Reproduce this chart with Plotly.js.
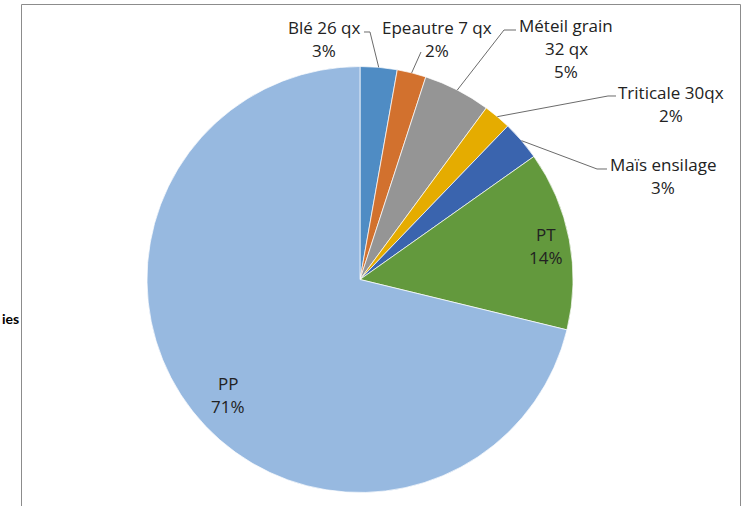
<!DOCTYPE html>
<html>
<head>
<meta charset="utf-8">
<script src="https://cdn.plot.ly/plotly-3.0.1.min.js"></script>
<style>html,body{margin:0;padding:0;background:#fff;}#chart{width:744px;height:506px;}</style>
</head>
<body>
<div id="chart"></div>
<script>
// ---- data ----
const labels = ['Blé 26 qx', 'Epeautre 7 qx', 'Méteil grain<br>32 qx', 'Triticale 30qx', 'Maïs ensilage', 'PT', 'PP'];
const values = [2.8, 2.2, 5.1, 2.1, 3.0, 13.6, 71.2];
const colors = ['#4F8CC4', '#D2712E', '#959595', '#E5AC00', '#3A64AE', '#63993D', '#97B9E0'];
const sideText = 'ies';

// ---- layout helpers (pixel geometry) ----
const W = 744, H = 506;
const cx = 360, cy = 279.5, R = 213;
const px = x => x / W;
const py = y => 1 - y / H;
const LINE = 23;

// label block centres (pixels) and leader elbow points (pixels)
const labelPos = [[324, 39], [437, 39], [566, 48.5], [671, 103.5], [663, 176], [546, 246], [228, 395]];
const leaderPts = [[[364, 32], [370, 32]], [[421, 52]], [[516, 30], [504, 30]], [[616, 96], [608, 96]], [[607, 169], [597, 169]], null, null];

const total = values.reduce((a, b) => a + b, 0);
let cum = 0;
const annotations = [];
const shapes = [];
labels.forEach((lab, i) => {
  const frac = values[i] / total;
  const mid = (cum + frac / 2) * 2 * Math.PI;
  cum += frac;
  const pct = Math.round(frac * 100) + '%';
  const lines = lab.split('<br>').concat([pct]);
  lines.forEach((ln, k) => {
    annotations.push({
      xref: 'paper', yref: 'paper', x: px(labelPos[i][0]),
      y: py(labelPos[i][1] + (k - (lines.length - 1) / 2) * LINE),
      xanchor: 'center', yanchor: 'middle', showarrow: false, align: 'center',
      text: ln,
      font: {family: '"Open Sans", sans-serif', size: 17, color: '#222'}
    });
  });
  if (leaderPts[i]) {
    const ex = cx + R * Math.sin(mid), ey = cy - R * Math.cos(mid);
    const pts = leaderPts[i].concat([[ex, ey]]);
    const path = pts.map((p, k) => (k ? 'L' : 'M') + px(p[0]).toFixed(5) + ',' + py(p[1]).toFixed(5)).join(' ');
    shapes.push({type: 'path', xref: 'paper', yref: 'paper', path: path, line: {color: '#6b6b6b', width: 1}});
  }
});

// chart frame
shapes.push({type: 'rect', xref: 'paper', yref: 'paper', x0: px(21.5), x1: px(740.5), y0: py(4.5), y1: py(H + 5),
  line: {color: '#8c8c8c', width: 1}, fillcolor: 'rgba(0,0,0,0)'});

annotations.push({
  xref: 'paper', yref: 'paper', x: 0, y: py(318), xanchor: 'left', yanchor: 'middle', showarrow: false,
  text: '<b>' + sideText + '</b>', font: {family: 'Lato, sans-serif', size: 14, color: '#000'}
});

const trace = {
  type: 'pie', labels: labels, values: values, sort: false, direction: 'clockwise', rotation: 0,
  marker: {colors: colors, line: {color: 'rgba(255,255,255,0.7)', width: 1}},
  textinfo: 'none', hoverinfo: 'skip', showlegend: false,
  domain: {x: [px(cx - R), px(cx + R)], y: [py(cy + R), py(cy - R)]}
};

Plotly.newPlot('chart', [trace], {
  width: W, height: H, margin: {l: 0, r: 0, t: 0, b: 0},
  paper_bgcolor: '#fff', showlegend: false,
  annotations: annotations, shapes: shapes
}, {staticPlot: true, displayModeBar: false});
</script>
</body>
</html>
